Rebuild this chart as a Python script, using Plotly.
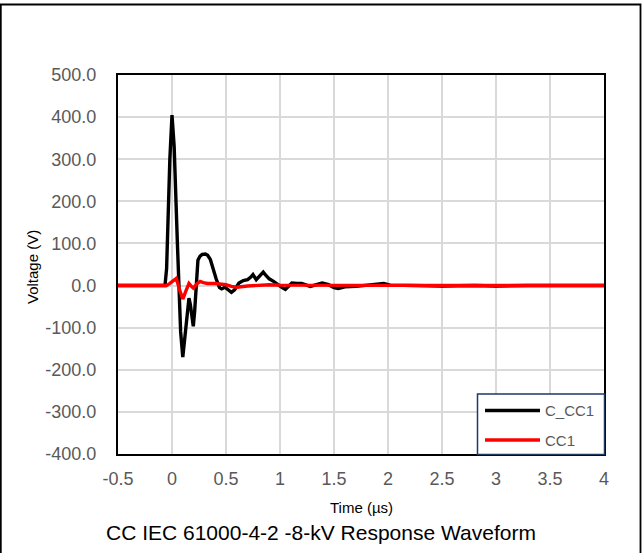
import plotly.graph_objects as go

# ---- data ----
t_cc = [-0.5, -0.3, -0.1, -0.065, -0.05, -0.02, 0.0, 0.02, 0.05, 0.08, 0.10, 0.12, 0.145,
        0.157, 0.17, 0.185, 0.197, 0.21, 0.225, 0.24, 0.26, 0.28, 0.31, 0.33, 0.355, 0.38,
        0.41, 0.44, 0.46, 0.49, 0.52, 0.55, 0.58, 0.62, 0.66, 0.70, 0.73, 0.75, 0.78, 0.81,
        0.845, 0.87, 0.90, 0.94, 0.98, 1.02, 1.05, 1.08, 1.11, 1.16, 1.20, 1.28, 1.33, 1.39,
        1.45, 1.50, 1.54, 1.60, 1.70, 1.80, 1.90, 1.96, 2.02, 2.20, 2.50, 2.80, 3.00, 3.30,
        3.60, 4.00]
v_c_cc1 = [0, 0.5, 0, 0, 40, 300, 405, 330, 100, -110, -170, -120, -45,
           -30, -45, -85, -97, -60, 10, 60, 70, 74, 75, 72, 62, 40,
           15, -5, -8, -4, -10, -16, -10, 6, 12, 14, 20, 26, 14, 22,
           32, 24, 16, 10, 2, -5, -9, -2, 6, 5, 5, -2, 1, 6,
           2, -5, -7, -3, -2, 0, 3, 5, 1, 0, -1, 0, -1, 0,
           0, 0]

t_cc1 = [-0.5, -0.05, -0.02, 0.01, 0.04, 0.07, 0.10, 0.13, 0.157, 0.18, 0.197, 0.23, 0.26,
         0.29, 0.33, 0.40, 0.45, 0.50, 0.55, 0.60, 0.70, 0.80, 0.90, 1.00, 1.20, 1.50,
         2.00, 2.50, 3.00, 3.50, 4.00]
v_cc1 = [0, 0, 5, 12, 17, -10, -32, -12, 5, -2, -6, 4, 10,
         7, 5, 5, 4, 2, -2, -4, -1, 1, 2, 1, 1, 0,
         0, 0, 0, 0, 0]

series_names = ["C_CC1", "CC1"]
series_colors = ["#000000", "#FF0000"]

x_tickvals = [-0.5, 0, 0.5, 1, 1.5, 2, 2.5, 3, 3.5, 4]
x_ticktext = ["-0.5", "0", "0.5", "1", "1.5", "2", "2.5", "3", "3.5", "4"]
y_tickvals = [-400, -300, -200, -100, 0, 100, 200, 300, 400, 500]
y_ticktext = ["-400.0", "-300.0", "-200.0", "-100.0", "0.0", "100.0", "200.0", "300.0", "400.0", "500.0"]

title_text = "CC IEC 61000-4-2 -8-kV Response Waveform"
x_title = "Time (µs)"
y_title = "Voltage (V)"

# ---- figure ----
W, H = 643, 553
L, R, T, B = 118, 604, 75, 454
pw, ph = R - L, B - T


def px_x(x):
    return (x - L) / pw


def px_y(y):
    return (B - y) / ph


fig = go.Figure()
fig.add_trace(go.Scatter(x=t_cc, y=v_c_cc1, mode="lines", name=series_names[0],
                         line=dict(color=series_colors[0], width=3.4), showlegend=False))
fig.add_trace(go.Scatter(x=t_cc1, y=v_cc1, mode="lines", name=series_names[1],
                         line=dict(color=series_colors[1], width=3.4), showlegend=False))

tickfont = dict(family="Liberation Sans, Arial, sans-serif", size=18, color="#595959")

fig.update_xaxes(range=[-0.5, 4], tickmode="array", tickvals=x_tickvals, ticktext=x_ticktext,
                 showgrid=True, gridcolor="#D9D9D9", gridwidth=1.5, zeroline=False,
                 showline=True, linecolor="black", linewidth=2.3, mirror=True,
                 ticks="", tickfont=tickfont, ticklabelstandoff=7)
fig.update_yaxes(range=[-400, 500], tickmode="array", tickvals=y_tickvals, ticktext=y_ticktext,
                 showgrid=True, gridcolor="#D9D9D9", gridwidth=1.5, zeroline=False,
                 showline=True, linecolor="black", linewidth=2.3, mirror=True,
                 ticks="", tickfont=tickfont, ticklabelstandoff=16)

shapes = []
# outer border (top, left, right)
shapes.append(dict(type="path", xref="paper", yref="paper",
                   path=f"M {px_x(0.8)} {px_y(560)} L {px_x(0.8)} {px_y(4.5)} L {px_x(640.5)} {px_y(4.5)} L {px_x(640.5)} {px_y(560)}",
                   line=dict(color="black", width=1.8)))
# legend box
shapes.append(dict(type="rect", xref="paper", yref="paper",
                   x0=px_x(477.5), x1=px_x(604.5), y0=px_y(454.5), y1=px_y(394),
                   fillcolor="white", line=dict(color="#203864", width=1.5), layer="above"))
legend_rows = [410.5, 440]
annotations = []
for name, col, yy in zip(series_names, series_colors, legend_rows):
    shapes.append(dict(type="line", xref="paper", yref="paper",
                       x0=px_x(485), x1=px_x(540), y0=px_y(yy), y1=px_y(yy),
                       line=dict(color=col, width=3.4), layer="above"))
    annotations.append(dict(text=name, xref="paper", yref="paper", x=px_x(543), y=px_y(yy),
                            xanchor="left", yanchor="middle", showarrow=False,
                            font=dict(family="Liberation Sans, Arial, sans-serif", size=15, color="#595959")))

annotations.append(dict(text=x_title, xref="paper", yref="paper", x=px_x(361.5), y=px_y(507),
                        xanchor="center", yanchor="middle", showarrow=False,
                        font=dict(family="Liberation Sans, Arial, sans-serif", size=15, color="black")))
annotations.append(dict(text=y_title, xref="paper", yref="paper", x=px_x(32), y=px_y(267),
                        xanchor="center", yanchor="middle", showarrow=False, textangle=-90,
                        font=dict(family="Liberation Sans, Arial, sans-serif", size=15, color="black")))
annotations.append(dict(text=title_text, xref="paper", yref="paper", x=px_x(321), y=px_y(532),
                        xanchor="center", yanchor="middle", showarrow=False,
                        font=dict(family="Liberation Sans, Arial, sans-serif", size=21, color="black")))

fig.update_layout(width=W, height=H, margin=dict(l=L, r=W - R, t=T, b=H - B),
                  paper_bgcolor="white", plot_bgcolor="white",
                  shapes=shapes, annotations=annotations, showlegend=False)

fig.write_html("out.html")
